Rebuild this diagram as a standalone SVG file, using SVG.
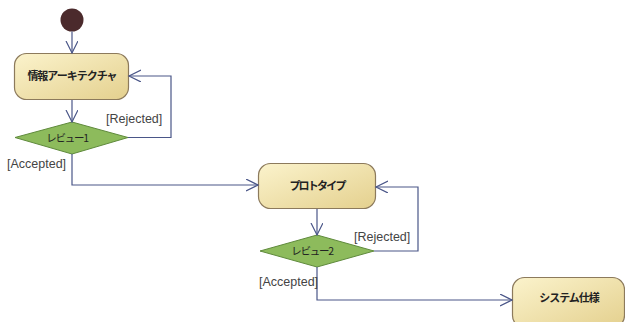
<svg xmlns="http://www.w3.org/2000/svg" width="625" height="322" viewBox="0 0 625 322">
<style>
.node rect{fill:url(#g);stroke:#8c7a5c;stroke-width:1.2}
.node text{font-family:"Noto Sans CJK JP","Liberation Sans",sans-serif;font-size:11px;font-weight:bold;fill:#222;text-anchor:middle;letter-spacing:-1px}
.dec polygon{fill:#8dbb5c;stroke:#5f8a3c;stroke-width:1}
.dec text{font-family:"Noto Sans CJK JP","Liberation Sans",sans-serif;font-size:10.5px;fill:#222;text-anchor:middle;letter-spacing:-1.3px}
.conn path{fill:none;stroke:#4a5688;stroke-width:1.2}
.lbl{font-family:"Liberation Sans","Noto Sans CJK JP",sans-serif;font-size:12.5px;fill:#444}
</style>
<defs>
<linearGradient id="g" x1="0" y1="0" x2="1" y2="1">
<stop offset="0" stop-color="#fbf3cc"/>
<stop offset="1" stop-color="#e4d08e"/>
</linearGradient>
<marker id="a" markerWidth="14" markerHeight="14" refX="12" refY="6" orient="auto" markerUnits="userSpaceOnUse">
<path d="M0,0 L12,6 L0,12" fill="none" stroke="#4a5688" stroke-width="1.2"/>
</marker>
</defs>
<g id="start"><circle cx="72" cy="20" r="11.5" fill="#4b2a2c"/></g>
<g id="n1" class="node"><rect x="14.5" y="53.5" width="114" height="46" rx="12"/><text x="72" y="80">情報アーキテクチャ</text></g>
<g id="d1" class="dec"><polygon points="72,122 128,137.5 72,154 15,137.5"/><text x="67" y="141.5">レビュー1</text></g>
<g id="n2" class="node"><rect x="258.5" y="163.5" width="117" height="45" rx="12"/><text x="317" y="190" style="letter-spacing:-1.8px">プロトタイプ</text></g>
<g id="d2" class="dec"><polygon points="317,235 374,251 317,267 260,251"/><text x="312" y="255">レビュー2</text></g>
<g id="n3" class="node"><rect x="512.5" y="277.5" width="112" height="50" rx="12"/><text x="569" y="302">システム仕様</text></g>
<g id="connectors" class="conn">
<path d="M72,31.5 V53" marker-end="url(#a)"/>
<path d="M72,100 V122" marker-end="url(#a)"/>
<path d="M128,137.5 H171 V76 H129" marker-end="url(#a)"/>
<path d="M72,154 V185 H258" marker-end="url(#a)"/>
<path d="M317,209 V235" marker-end="url(#a)"/>
<path d="M374,251 H418 V187 H376" marker-end="url(#a)"/>
<path d="M317,267 V300 H512" marker-end="url(#a)"/>
</g>
<g id="labels">
<text class="lbl" x="106" y="123">[Rejected]</text>
<text class="lbl" x="7" y="168">[Accepted]</text>
<text class="lbl" x="354" y="241">[Rejected]</text>
<text class="lbl" x="259" y="286">[Accepted]</text>
</g>
</svg>
